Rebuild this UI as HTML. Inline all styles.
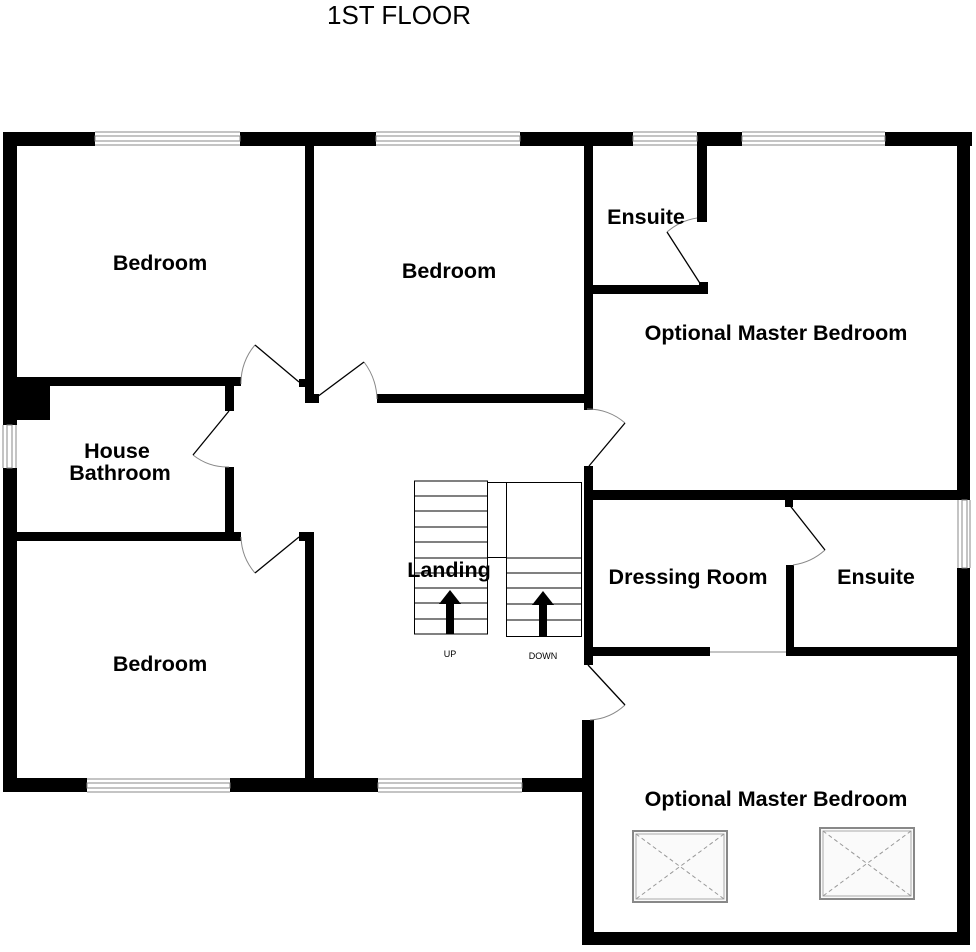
<!DOCTYPE html>
<html><head><meta charset="utf-8"><style>
body{margin:0;background:#fff;}
svg{display:block;}
text{font-family:"Liberation Sans",sans-serif;}
.l{font-weight:bold;font-size:21.5px;text-anchor:middle;}
</style></head><body>
<svg width="976" height="952" viewBox="0 0 976 952" xmlns="http://www.w3.org/2000/svg">
<text x="399" y="24" font-size="26" text-anchor="middle">1ST FLOOR</text>
<g fill="#000">
<rect x="3" y="132" width="92" height="14"/>
<rect x="240" y="132" width="136" height="14"/>
<rect x="520" y="132" width="113" height="14"/>
<rect x="697" y="132" width="45" height="14"/>
<rect x="885" y="132" width="87" height="14"/>
<rect x="3" y="132" width="14" height="293"/>
<rect x="3" y="468" width="14" height="324"/>
<rect x="16" y="382" width="34" height="38"/>
<rect x="957" y="132" width="13" height="368"/>
<rect x="957" y="568" width="13" height="377"/>
<rect x="3" y="778" width="84" height="14"/>
<rect x="230" y="778" width="148" height="14"/>
<rect x="522" y="778" width="72" height="14"/>
<rect x="582" y="720" width="12" height="225"/>
<rect x="582" y="932" width="388" height="13"/>
<rect x="305" y="145" width="9" height="257"/>
<rect x="299" y="379" width="8" height="8"/>
<rect x="305" y="394" width="14" height="9"/>
<rect x="16" y="377" width="225" height="9"/>
<rect x="225" y="386" width="9" height="25"/>
<rect x="225" y="467" width="9" height="74"/>
<rect x="16" y="532" width="225" height="9"/>
<rect x="299" y="532" width="14" height="9"/>
<rect x="305" y="532" width="9" height="260"/>
<rect x="377" y="394" width="215" height="9"/>
<rect x="584" y="145" width="9" height="265"/>
<rect x="584" y="466" width="9" height="199"/>
<rect x="697" y="145" width="10" height="77"/>
<rect x="593" y="285" width="114" height="9"/>
<rect x="699" y="282" width="9" height="12"/>
<rect x="593" y="490" width="377" height="10"/>
<rect x="785" y="498" width="8" height="9"/>
<rect x="786" y="565" width="8" height="91"/>
<rect x="593" y="647" width="117" height="9"/>
<rect x="786" y="647" width="172" height="9"/>
</g>
<g fill="none" stroke="#888" stroke-width="1">
<rect x="95" y="136" width="145" height="5"/><line x1="95" y1="132" x2="240" y2="132"/><line x1="95" y1="145" x2="240" y2="145"/>
<rect x="376" y="136" width="144" height="5"/><line x1="376" y1="132" x2="520" y2="132"/><line x1="376" y1="145" x2="520" y2="145"/>
<rect x="633" y="136" width="64" height="5"/><line x1="633" y1="132" x2="697" y2="132"/><line x1="633" y1="145" x2="697" y2="145"/>
<rect x="742" y="136" width="143" height="5"/><line x1="742" y1="132" x2="885" y2="132"/><line x1="742" y1="145" x2="885" y2="145"/>
<rect x="7" y="425" width="5" height="43"/><line x1="3" y1="425" x2="3" y2="468"/><line x1="16" y1="425" x2="16" y2="468"/>
<rect x="962" y="500" width="5" height="68"/><line x1="958" y1="500" x2="958" y2="568"/><line x1="970" y1="500" x2="970" y2="568"/>
<rect x="87" y="783" width="143" height="5"/><line x1="87" y1="779" x2="230" y2="779"/><line x1="87" y1="792" x2="230" y2="792"/>
<rect x="378" y="783" width="144" height="5"/><line x1="378" y1="779" x2="522" y2="779"/><line x1="378" y1="792" x2="522" y2="792"/>
<line x1="710" y1="652" x2="786" y2="652"/>
<path d="M241 384 A58 58 0 0 1 255 345"/>
<path d="M364 362 A64 64 0 0 1 377 399"/>
<path d="M193 455 A56 56 0 0 0 229 467"/>
<path d="M241 537 A58 58 0 0 0 255 573"/>
<path d="M587 409 A56 56 0 0 1 625 423"/>
<path d="M625 705 A56 56 0 0 1 590 720"/>
<path d="M697 218 A60 60 0 0 0 667 232"/>
<path d="M825 550 A60 60 0 0 1 793 565"/>
</g>
<g stroke="#000" stroke-width="1.3" fill="none">
<line x1="299" y1="382" x2="255" y2="345"/>
<line x1="313" y1="400" x2="364" y2="362"/>
<line x1="229" y1="411" x2="193" y2="455"/>
<line x1="299" y1="537" x2="255" y2="573"/>
<line x1="589" y1="466" x2="625" y2="423"/>
<line x1="588" y1="665" x2="625" y2="705"/>
<line x1="703" y1="288" x2="667" y2="232"/>
<line x1="788" y1="503" x2="825" y2="550"/>
</g>
<g stroke="#000" stroke-width="1" fill="none">
<rect x="414.5" y="481" width="73" height="153"/>
<line x1="414" y1="496" x2="487" y2="496"/><line x1="414" y1="511" x2="487" y2="511"/>
<line x1="414" y1="527" x2="487" y2="527"/><line x1="414" y1="542" x2="487" y2="542"/>
<line x1="414" y1="558" x2="487" y2="558"/><line x1="414" y1="573" x2="487" y2="573"/>
<line x1="414" y1="588" x2="487" y2="588"/><line x1="414" y1="603" x2="487" y2="603"/>
<line x1="414" y1="619" x2="487" y2="619"/>
<rect x="487.5" y="482.5" width="19" height="75"/>
<rect x="506.5" y="482.5" width="75" height="154"/>
<line x1="506" y1="558" x2="581" y2="558"/><line x1="506" y1="573" x2="581" y2="573"/>
<line x1="506" y1="588" x2="581" y2="588"/><line x1="506" y1="604" x2="581" y2="604"/>
<line x1="506" y1="620" x2="581" y2="620"/>
</g>
<g fill="#000">
<rect x="446" y="603" width="8" height="31"/><polygon points="450,590 439,604 461,604"/>
<rect x="539" y="604" width="8" height="32"/><polygon points="543,591 532,605 554,605"/>
</g>
<text x="450" y="657" font-size="9" text-anchor="middle">UP</text>
<text x="543" y="659" font-size="9" text-anchor="middle">DOWN</text>
<g>
<rect x="633" y="831" width="94" height="71" fill="#fafafa" stroke="#888" stroke-width="2"/>
<rect x="636" y="834" width="88" height="65" fill="none" stroke="#aaa" stroke-width="1"/>
<path d="M636 834 L724 899 M724 834 L636 899" stroke="#999" stroke-dasharray="4,3"/>
<rect x="820" y="828" width="94" height="71" fill="#fafafa" stroke="#888" stroke-width="2"/>
<rect x="823" y="831" width="88" height="65" fill="none" stroke="#aaa" stroke-width="1"/>
<path d="M823 831 L911 896 M911 831 L823 896" stroke="#999" stroke-dasharray="4,3"/>
</g>
<text class="l" x="160" y="270">Bedroom</text>
<text class="l" x="449" y="278">Bedroom</text>
<text class="l" x="646" y="224">Ensuite</text>
<text class="l" x="776" y="340">Optional Master Bedroom</text>
<text class="l" x="117" y="458">House</text>
<text class="l" x="120" y="480">Bathroom</text>
<text class="l" x="449" y="577">Landing</text>
<text class="l" x="688" y="584">Dressing Room</text>
<text class="l" x="876" y="584">Ensuite</text>
<text class="l" x="160" y="671">Bedroom</text>
<text class="l" x="776" y="806">Optional Master Bedroom</text>
</svg>
</body></html>
